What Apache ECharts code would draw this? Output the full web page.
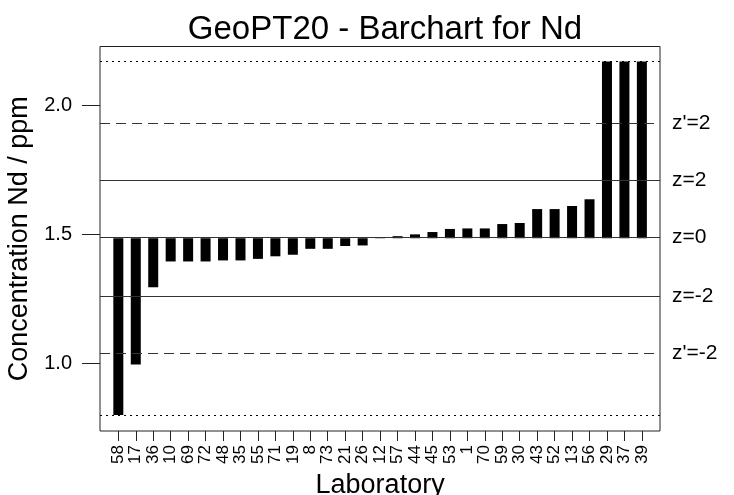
<!DOCTYPE html>
<html>
<head>
<meta charset="utf-8">
<script src="https://cdn.jsdelivr.net/npm/echarts@6/dist/echarts.min.js"></script>
<style>
  html, body { margin: 0; padding: 0; background: #fff; }
  #chart { width: 734px; height: 495px; }
</style>
</head>
<body>
<div id="chart"></div>
<script>
var labs = ['58','17','36','10','69','72','48','35','55','71','19','8','73','21','26','12',
            '57','44','45','53','1','70','59','30','43','52','13','56','29','37','39'];
var values = [0.80, 0.996, 1.295, 1.395, 1.395, 1.395, 1.399, 1.399, 1.405, 1.415, 1.421,
              1.444, 1.444, 1.455, 1.457, 1.489, 1.493, 1.500, 1.509, 1.521, 1.523, 1.523,
              1.540, 1.544, 1.598, 1.598, 1.610, 1.636, 2.17, 2.17, 2.17];
var yTicks = [1.0, 1.5, 2.0];
var mean = 1.485;
var zLines = [2.17, 1.933, 1.707, 1.485, 1.261, 1.037, 0.80];
var zNames = ['', "z'=2", 'z=2', 'z=0', 'z=-2', "z'=-2", ''];
var zKinds = ['dotted', 'dashed', 'solid', 'solid', 'solid', 'dashed', 'dotted'];

var font = 'Liberation Sans, Arial, Helvetica, sans-serif';
var yMin = 0.738, yMax = 2.228;

// bars hang from the mean line: transparent base + visible part
var base = values.map(function (v) { return Math.min(v, mean); });
var part = values.map(function (v) { return +Math.abs(v - mean).toFixed(4); });

var lineStyles = {
  solid: { type: 'solid', color: '#333', width: 1 },
  dashed: { type: [10, 6], color: '#333', width: 1 },
  dotted: { type: [2, 4], color: '#000', width: 1 }
};

var markData = zLines.map(function (v, i) {
  return {
    yAxis: v,
    lineStyle: lineStyles[zKinds[i]],
    label: { show: zNames[i] !== '', formatter: zNames[i] }
  };
});

var chart = echarts.init(document.getElementById('chart'));
chart.setOption({
  animation: false,
  backgroundColor: '#fff',
  textStyle: { fontFamily: font },
  title: {
    text: 'GeoPT20 - Barchart for Nd',
    left: 380, textAlign: 'center', top: 8,
    textStyle: { fontFamily: font, fontSize: 33, fontWeight: 'normal', color: '#000' }
  },
  grid: [
    { left: 100, right: 74, top: 46.5, bottom: 64, show: true, outerBoundsMode: 'none',
      containLabel: false, borderColor: '#222', borderWidth: 1, backgroundColor: 'transparent' },
    { left: 109.6, right: 83.4, top: 46.5, bottom: 64, outerBoundsMode: 'none', containLabel: false }
  ],
  xAxis: [
    { gridIndex: 0, type: 'value', min: 0, max: 1, show: false },
    { gridIndex: 1, type: 'category', data: labs,
      name: 'Laboratory', nameLocation: 'middle', nameGap: 33,
      nameTextStyle: { fontFamily: font, fontSize: 27, color: '#000' },
      axisLine: { show: false },
      axisTick: { show: true, alignWithLabel: true, interval: 0, length: 10,
                  lineStyle: { color: '#222' } },
      axisLabel: { interval: 0, rotate: 90, margin: 14, fontSize: 17, color: '#000',
                   fontFamily: font } }
  ],
  yAxis: [
    { gridIndex: 0, type: 'value', min: yMin, max: yMax,
      name: 'Concentration Nd / ppm', nameLocation: 'middle', nameGap: 58,
      nameTextStyle: { fontFamily: font, fontSize: 27, color: '#000' },
      axisLine: { show: false },
      splitLine: { show: false },
      axisTick: { show: true, length: 18, customValues: yTicks,
                  lineStyle: { color: '#222' } },
      axisLabel: { customValues: yTicks, margin: 28, fontSize: 20, color: '#000',
                   fontFamily: font,
                   formatter: function (v) { return v.toFixed(1); } } },
    { gridIndex: 1, type: 'value', min: yMin, max: yMax, show: false }
  ],
  series: [
    { type: 'line', xAxisIndex: 0, yAxisIndex: 0, data: [], silent: true,
      markLine: {
        silent: true, symbol: 'none', animation: false,
        label: { position: 'end', distance: 12, fontSize: 21, color: '#000',
                 fontFamily: font },
        data: markData
      } },
    { type: 'bar', xAxisIndex: 1, yAxisIndex: 1, stack: 'nd', data: base,
      barWidth: 10, itemStyle: { color: 'transparent' }, silent: true },
    { type: 'bar', xAxisIndex: 1, yAxisIndex: 1, stack: 'nd', data: part,
      barWidth: 10, itemStyle: { color: '#000' } }
  ]
});
</script>
</body>
</html>
